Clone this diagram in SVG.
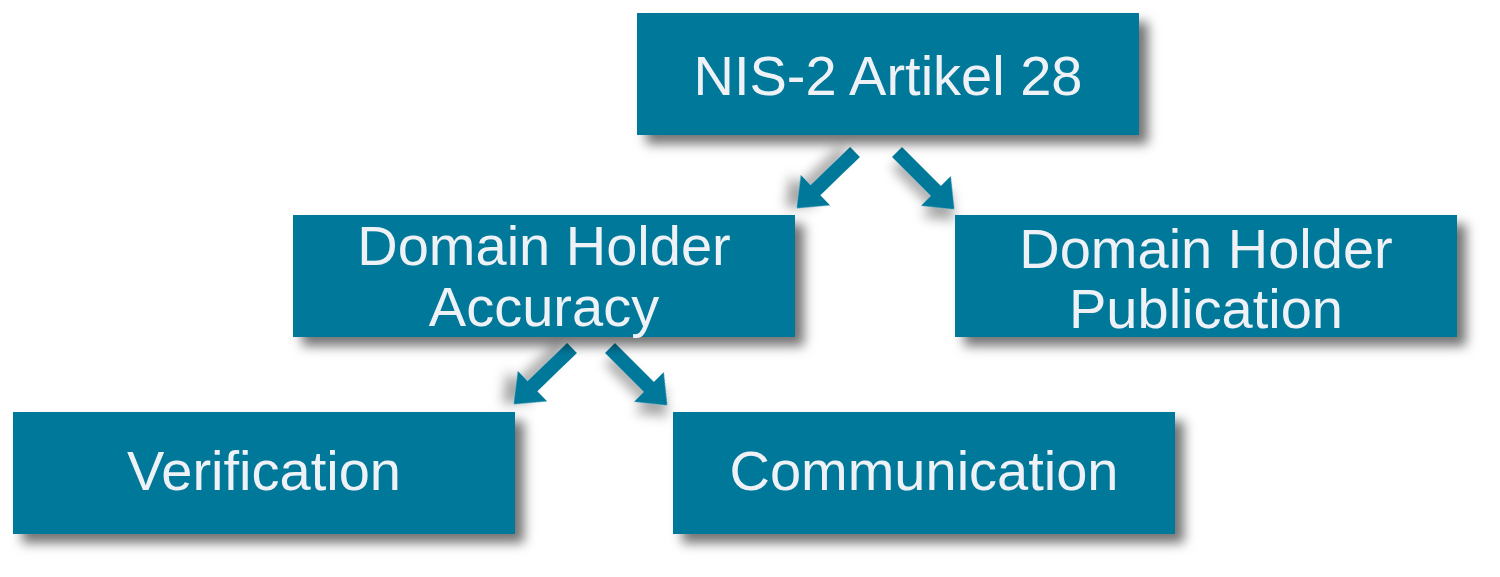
<svg xmlns="http://www.w3.org/2000/svg" xmlns:xlink="http://www.w3.org/1999/xlink" width="1500" height="577" viewBox="0 0 1500 577">
<style>
.box{fill:#02789a;filter:url(#sh)}
.t{font-family:"Liberation Sans",Arial,sans-serif;font-size:56px;fill:#eef2f6;text-anchor:middle}
.arr{fill:#02789a;filter:url(#sh2)}
</style>
<defs>
<filter id="sh" x="-10%" y="-20%" width="130%" height="150%">
<feDropShadow dx="9" dy="9" stdDeviation="6" flood-color="#000" flood-opacity="0.55"/>
</filter>
<filter id="sh2" x="-50%" y="-50%" width="200%" height="200%">
<feDropShadow dx="8" dy="8" stdDeviation="6" flood-color="#000" flood-opacity="0.35"/>
</filter>
<polygon id="arrow" points="0,-7 55,-7 55,-21 81,0 55,21 55,7 0,7"/>
</defs>
<rect width="1500" height="577" fill="#fff"/>
<g id="connectors">
<use href="#arrow" class="arr" transform="translate(855,152) rotate(136)"/>
<use href="#arrow" class="arr" transform="translate(897,152) rotate(45)"/>
<use href="#arrow" class="arr" transform="translate(572,348) rotate(136)"/>
<use href="#arrow" class="arr" transform="translate(610,348) rotate(45)"/>
</g>
<g id="n1"><rect class="box" x="637" y="13" width="502" height="122"/><text class="t" x="888" y="95">NIS-2 Artikel 28</text></g>
<g id="n2"><rect class="box" x="293" y="215" width="502" height="122"/><text class="t" x="544" y="265">Domain Holder</text><text class="t" x="544" y="326">Accuracy</text></g>
<g id="n3"><rect class="box" x="955" y="215" width="502" height="122"/><text class="t" x="1206" y="268">Domain Holder</text><text class="t" x="1206" y="328">Publication</text></g>
<g id="n4"><rect class="box" x="13" y="412" width="502" height="122"/><text class="t" x="264" y="490">Verification</text></g>
<g id="n5"><rect class="box" x="673" y="412" width="502" height="122"/><text class="t" x="924" y="490">Communication</text></g>
</svg>
